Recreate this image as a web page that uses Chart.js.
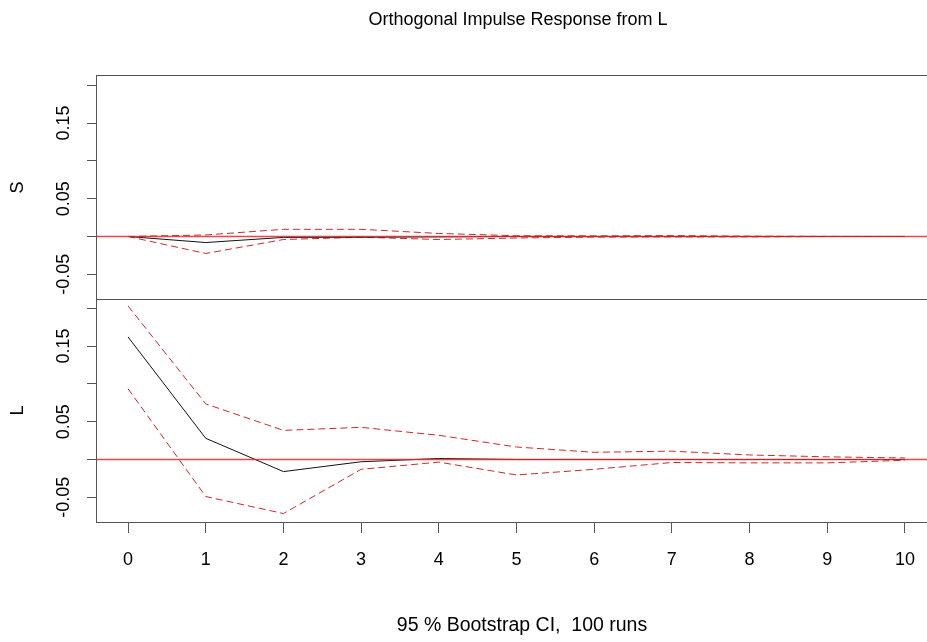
<!DOCTYPE html>
<html>
<head>
<meta charset="utf-8">
<title>Orthogonal Impulse Response from L</title>
<script src="https://cdn.jsdelivr.net/npm/chart.js@4/dist/chart.umd.min.js"></script>
<style>
    html, body { margin: 0; padding: 0; background: #fff; overflow: hidden; }
    #wrap { position: relative; width: 927px; height: 642px; overflow: hidden; }
    #topChart { position: absolute; left: 0; top: 0; }
    #bottomChart { position: absolute; left: 0; top: 299px; }
</style>
</head>
<body>
<div id="wrap">
    <canvas id="topChart" width="945" height="300"></canvas>
    <canvas id="bottomChart" width="945" height="343"></canvas>
</div>
<script>
// horizon (steps after the shock)
const steps = [0, 1, 2, 3, 4, 5, 6, 7, 8, 9, 10];

// response of S to a shock in L, with bootstrap bands
const sResp  = [0, -0.008, -0.0012, -0.001, -0.0005, 0, 0, 0, 0, 0, 0];
const sUpper = [0, 0.002, 0.0095, 0.0095, 0.004, 0.001, 0.0008, 0.0012, 0.0004, 0.0001, 0];
const sLower = [0, -0.0225, -0.004, -0.001, -0.004, -0.002, -0.0008, -0.0006, -0.0005, -0.0001, 0];

// response of L to its own shock, with bootstrap bands
const lResp  = [0.162, 0.028, -0.016, -0.003, 0.0013, 0, 0, 0, 0, 0, 0];
const lUpper = [0.203, 0.0735, 0.0385, 0.0425, 0.032, 0.0165, 0.0095, 0.011, 0.006, 0.0035, 0.002];
const lLower = [0.0935, -0.049, -0.0715, -0.013, -0.0035, -0.0205, -0.013, -0.004, -0.0045, -0.0045, -0.001];

// axis ticks and which ones get a label
const yTicks  = [-0.05, 0, 0.05, 0.1, 0.15, 0.2];
const yLabels = ['-0.05', '', '0.05', '', '0.15', ''];
const zeroLine = 0;

const titleText = 'Orthogonal Impulse Response from L';
const captionText = '95 % Bootstrap CI,  100 runs';

Chart.defaults.font.family = "'Liberation Sans', Arial, sans-serif";
Chart.defaults.color = '#000';

const frameColor = '#555';
const ciColor = 'rgb(204, 40, 40)';
const zeroColor = 'rgba(228, 40, 40, 0.85)';

function toPoints(values) {
    return values.map((v, i) => ({ x: steps[i], y: v }));
}

function makeDatasets(resp, upper, lower) {
    return [
        { data: toPoints(resp), borderColor: '#111', borderWidth: 1 },
        { data: toPoints(upper), borderColor: ciColor, borderWidth: 1, borderDash: [7, 4] },
        { data: toPoints(lower), borderColor: ciColor, borderWidth: 1, borderDash: [7, 4] }
    ];
}

// box round the panel, rotated y labels, axis name, then the red zero line on top
function panelPlugin(name) {
    return {
        id: 'panel' + name,
        afterDraw(chart) {
            const ctx = chart.ctx;
            const area = chart.chartArea;
            const yScale = chart.scales.y;
            ctx.save();
            ctx.strokeStyle = frameColor;
            ctx.lineWidth = 1;
            ctx.strokeRect(Math.round(area.left) - 0.5, Math.round(area.top) - 0.5,
                Math.round(area.right - area.left) + 1, Math.round(area.bottom - area.top) + 1);

            ctx.fillStyle = '#000';
            ctx.font = "18px 'Liberation Sans', Arial, sans-serif";
            ctx.textAlign = 'center';
            ctx.textBaseline = 'middle';
            yTicks.forEach((v, i) => {
                if (!yLabels[i]) return;
                const py = yScale.getPixelForValue(v);
                ctx.save();
                ctx.translate(64, py);
                ctx.rotate(-Math.PI / 2);
                ctx.fillText(yLabels[i], 0, 0);
                ctx.restore();
            });

            // panel name
            ctx.save();
            ctx.translate(18, (area.top + area.bottom) / 2);
            ctx.rotate(-Math.PI / 2);
            ctx.fillText(name, 0, 0);
            ctx.restore();

            // zero line
            const y = yScale.getPixelForValue(zeroLine);
            ctx.strokeStyle = zeroColor;
            ctx.lineWidth = 1.6;
            ctx.beginPath();
            ctx.moveTo(Math.round(area.left), y);
            ctx.lineTo(area.right, y);
            ctx.stroke();
            ctx.restore();
        }
    };
}

function yScaleOptions() {
    return {
        type: 'linear',
        min: -0.0827,
        max: 0.2123,
        afterBuildTicks: scale => { scale.ticks = yTicks.map(v => ({ value: v })); },
        afterFit: scale => { scale.width = 97; },
        grid: { drawOnChartArea: false, drawTicks: true, tickLength: 10, color: frameColor },
        border: { display: false },
        ticks: { display: false }
    };
}

const commonOptions = {
    responsive: false,
    devicePixelRatio: 1,
    animation: false,
    plugins: { legend: { display: false }, tooltip: { enabled: false } },
    elements: { point: { radius: 0 }, line: { tension: 0 } }
};

// Top panel: S
new Chart(document.getElementById('topChart').getContext('2d'), {
    type: 'line',
    data: { datasets: makeDatasets(sResp, sUpper, sLower) },
    options: {
        ...commonOptions,
        layout: { padding: { top: 76, right: 9, bottom: 1, left: 0 } },
        scales: {
            x: { type: 'linear', min: -0.4, max: 10.4, display: false },
            y: yScaleOptions()
        }
    },
    plugins: [panelPlugin('S'), {
        id: 'mainTitle',
        afterDraw(chart) {
            const ctx = chart.ctx;
            ctx.save();
            ctx.fillStyle = '#000';
            ctx.font = "18px 'Liberation Sans', Arial, sans-serif";
            ctx.textAlign = 'center';
            ctx.textBaseline = 'middle';
            ctx.fillText(titleText, 518, 20);
            ctx.restore();
        }
    }]
});

// Bottom panel: L, carries the x axis
new Chart(document.getElementById('bottomChart').getContext('2d'), {
    type: 'line',
    data: { datasets: makeDatasets(lResp, lUpper, lLower) },
    options: {
        ...commonOptions,
        layout: { padding: { top: 0, right: 9, bottom: 0, left: 0 } },
        scales: {
            x: {
                type: 'linear',
                min: -0.4,
                max: 10.4,
                afterBuildTicks: scale => { scale.ticks = steps.map(v => ({ value: v })); },
                afterFit: scale => { scale.height = 120; },
                grid: { drawOnChartArea: false, drawTicks: true, tickLength: 11, color: frameColor },
                border: { display: false },
                ticks: {
                    font: { size: 18 },
                    padding: 16,
                    maxRotation: 0,
                    autoSkip: false,
                    callback: v => String(v)
                }
            },
            y: yScaleOptions()
        }
    },
    plugins: [panelPlugin('L'), {
        id: 'caption',
        afterDraw(chart) {
            const ctx = chart.ctx;
            ctx.save();
            ctx.fillStyle = '#000';
            ctx.font = "19.5px 'Liberation Sans', Arial, sans-serif";
            ctx.textAlign = 'center';
            ctx.textBaseline = 'middle';
            ctx.fillText(captionText, 522, 327);
            ctx.restore();
        }
    }]
});
</script>
</body>
</html>
